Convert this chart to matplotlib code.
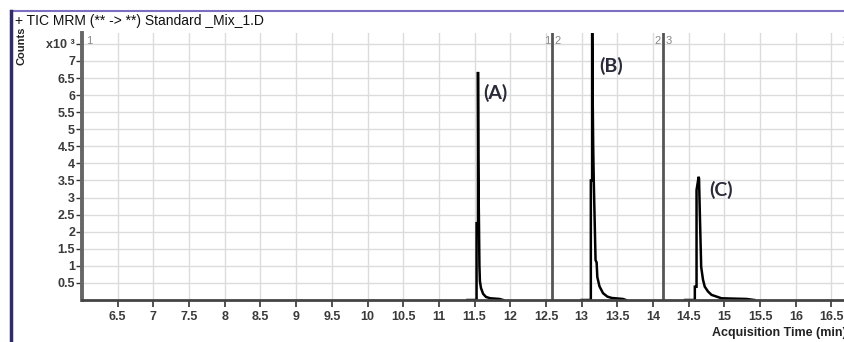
import numpy as np
import matplotlib
matplotlib.use('Agg')
import matplotlib.pyplot as plt
from matplotlib.lines import Line2D

# TIC trace, time in min, counts in x10^3
peak_a_t = [11.40, 11.528, 11.528, 11.548, 11.548, 11.552, 11.556, 11.562, 11.568, 11.575,
            11.59, 11.62, 11.66, 11.72, 11.85, 11.90]
peak_a_c = [0, 0, 2.25, 2.25, 6.68, 4.3, 3.2, 2.2, 1.0, 0.55, 0.35, 0.18, 0.09, 0.05, 0.03, 0]

peak_b_t = [13.00, 13.129, 13.129, 13.147, 13.147, 13.155, 13.162, 13.17, 13.195, 13.21,
            13.22, 13.25, 13.30, 13.36, 13.42, 13.58, 13.62]
peak_b_c = [0, 0, 3.5, 3.5, 8.5, 5.95, 4.5, 3.5, 1.17, 1.1, 0.67, 0.4, 0.2, 0.1, 0.06, 0.03, 0]

peak_c_t = [14.45, 14.586, 14.586, 14.61, 14.61, 14.64, 14.645, 14.655, 14.665, 14.675,
            14.70, 14.725, 14.77, 14.82, 14.96, 15.31, 15.42]
peak_c_c = [0, 0, 0.39, 0.39, 3.22, 3.61, 3.55, 2.64, 1.8, 0.97, 0.6, 0.39, 0.25, 0.15, 0.05, 0.03, 0]

# time segment boundaries and their labels
seg_times = [12.59, 14.14]
seg_labels = [('1', '2'), ('2', '3')]

peak_names = ['(A)', '(B)', '(C)']
peak_label_pos = [(11.79, 6.05), (13.42, 6.85), (14.96, 3.22)]

xticks = np.arange(6.5, 16.51, 0.5)
yticks = np.arange(0.5, 7.51, 0.5)
ytick_labels = ['%g' % v for v in yticks[:-1]] + ['x10 ³']

plt.rcParams['font.family'] = ['Liberation Sans', 'DejaVu Sans']

W, H = 845, 342
fig = plt.figure(figsize=(W / 100, H / 100), dpi=100)
ax = fig.add_axes([82 / W, 1 - 300 / H, 1 - 82 / W, (300 - 33) / H])

ax.set_xlim(6.0, 16.69)
ax.set_ylim(0, 7.82)

ax.set_xticks(xticks)
ax.set_xticklabels(['%g' % v for v in xticks], fontweight='bold')
ax.set_yticks(yticks)
ax.set_yticklabels(ytick_labels, fontweight='bold')
ax.grid(True, color='#dcdcdc', linewidth=1.0)
ax.set_axisbelow(True)

ax.tick_params(axis='x', length=5, width=1.2, color='#333333', labelsize=9,
               labelcolor='#3a3a3a', pad=3)
ax.tick_params(axis='y', length=4, width=1.0, color='#333333', labelsize=9,
               labelcolor='#3a3a3a', pad=1)

for s in ['top', 'right']:
    ax.spines[s].set_visible(False)
ax.spines['left'].set_linewidth(2.8)
ax.spines['left'].set_color('#666666')
ax.spines['bottom'].set_linewidth(2.0)
ax.spines['bottom'].set_color('#444444')

# segment boundary lines
for t, (l, r) in zip(seg_times, seg_labels):
    ax.axvline(t, color='#555555', linewidth=2.0)
    ax.text(t - 0.03, 7.6, l, ha='right', va='center', fontsize=8, color='#888888')
    ax.text(t + 0.03, 7.6, r, ha='left', va='center', fontsize=8, color='#888888')
ax.text(6.06, 7.6, '1', ha='left', va='center', fontsize=8, color='#888888')
ax.text(16.66, 7.6, '3', ha='left', va='center', fontsize=8, color='#888888')

for t, c in [(peak_a_t, peak_a_c), (peak_b_t, peak_b_c), (peak_c_t, peak_c_c)]:
    ax.plot(t, c, color='black', linewidth=1.8, solid_joinstyle='miter')

for name, (px, py) in zip(peak_names, peak_label_pos):
    ax.text(px, py, name, ha='center', va='center', fontsize=14, color='#2a2a3a',
            family=['Lato', 'DejaVu Sans'], fontweight='bold')

# header text and axis labels
fig.text(15 / W, 1 - 21 / H, '+ TIC MRM (** -> **) Standard _Mix_1.D', ha='left',
         va='center', fontsize=10, color='#111111')
fig.text(22 / W, 1 - 46 / H, 'Counts', rotation=90, ha='center', va='center',
         fontsize=8, color='#222222', fontweight='bold')
fig.text(712 / W, 1 - 333 / H, 'Acquisition Time (min)', ha='left', va='center',
         fontsize=9, color='#222222', fontweight='bold')

# window border
fig.add_artist(Line2D([11 / W, 1], [1 - 11 / H, 1 - 11 / H], color='#7a6fc0', linewidth=1.5))
fig.add_artist(Line2D([11 / W, 11 / W], [0, 1 - 11 / H], color='#2d2a6e', linewidth=2.5))

fig.savefig('out.png', dpi=100)
